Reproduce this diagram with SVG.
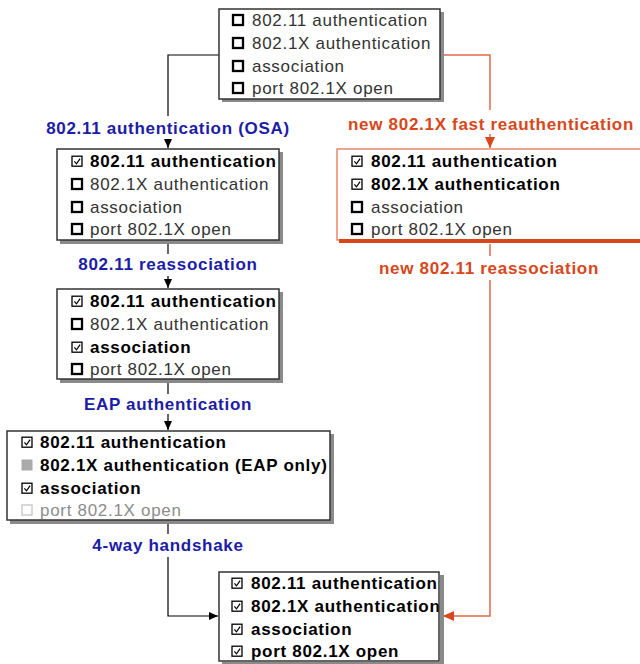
<svg xmlns="http://www.w3.org/2000/svg" xmlns:xlink="http://www.w3.org/1999/xlink" width="640" height="664" viewBox="0 0 640 664">
<style>
text{font-family:"Liberation Sans",Arial,sans-serif;font-size:17px;letter-spacing:0.7px}
.n{fill:#333}
.b{font-weight:bold;fill:#000}
.g{fill:#8c8c8c}
.box{fill:#fff;stroke:#333;stroke-width:1.5}
.sh{fill:#8a8a8a}
.lb{font-weight:bold;fill:#1c1ca6;text-anchor:middle}
.lo{font-weight:bold;fill:#d8461a;text-anchor:middle}
.cb{fill:none;stroke:#000}
.k{fill:none;stroke:#000;stroke-width:1.2}
.ln{fill:none;stroke:#000;stroke-width:1.2}
.lno{fill:none;stroke:#e36a45;stroke-width:1.5}
</style>
<defs>
<g id="u"><rect x="1" y="1" width="10" height="10" class="cb" stroke-width="2.3"/></g>
<g id="c"><rect x="1" y="1.2" width="10" height="10" class="cb" stroke-width="1.3"/><polyline points="3.4,6.4 5.5,8.8 9.1,3.7" class="k" stroke-width="1.6"/></g>
<g id="f"><rect x="0.5" y="0.5" width="11" height="11" fill="#aaa"/></g>
<g id="l"><rect x="1" y="1" width="10" height="10" fill="none" stroke="#c8c8c8" stroke-width="1.4"/></g>
<marker id="ab" markerWidth="10" markerHeight="8" refX="9" refY="4" orient="auto" markerUnits="userSpaceOnUse"><path d="M0,0 L9,4 L0,8 Z" fill="#000"/></marker>
<marker id="ao" markerWidth="12" markerHeight="10" refX="11" refY="5" orient="auto" markerUnits="userSpaceOnUse"><path d="M0,0 L11,5 L0,10 Z" fill="#d8461a"/></marker>
</defs>

<g id="connectors">
<path class="ln" d="M219,55 H168 V116"/>
<path class="ln" d="M168,139 V148" marker-end="url(#ab)"/>
<path class="ln" d="M168,240 V254"/>
<path class="ln" d="M168,276 V288" marker-end="url(#ab)"/>
<path class="ln" d="M168,380 V394"/>
<path class="ln" d="M168,414 V430" marker-end="url(#ab)"/>
<path class="ln" d="M168,521 V534"/>
<path class="ln" d="M168,557 V616 H218" marker-end="url(#ab)"/>
<path class="lno" d="M440,55 H490 V110"/>
<path class="lno" d="M490,134 V148" marker-end="url(#ao)"/>
<path class="lno" d="M490,244 V256"/>
<path class="lno" d="M490,280 V616 H443" marker-end="url(#ao)"/>
</g>

<g id="labels">
<text class="lb" x="168" y="134">802.11 authentication (OSA)</text>
<text class="lo" x="491" y="130">new 802.1X fast reauthentication</text>
<text class="lb" x="168" y="270">802.11 reassociation</text>
<text class="lo" x="489" y="274">new 802.11 reassociation</text>
<text class="lb" x="168" y="410">EAP authentication</text>
<text class="lb" x="168" y="551">4-way handshake</text>
</g>

<g id="state0">
<rect class="sh" x="222" y="12" width="222" height="90"/>
<rect class="box" x="219" y="9" width="221" height="90"/>
<use xlink:href="#u" x="232" y="14"/><text class="n" x="252" y="26">802.11 authentication</text>
<use xlink:href="#u" x="232" y="37"/><text class="n" x="252" y="49">802.1X authentication</text>
<use xlink:href="#u" x="232" y="60"/><text class="n" x="252" y="72">association</text>
<use xlink:href="#u" x="232" y="82"/><text class="n" x="252" y="94">port 802.1X open</text>
</g>

<g id="state1">
<rect class="sh" x="60" y="152" width="223" height="92"/>
<rect class="box" x="57" y="149" width="222" height="91"/>
<use xlink:href="#c" x="71" y="155"/><text class="b" x="90" y="167">802.11 authentication</text>
<use xlink:href="#u" x="71" y="178"/><text class="n" x="90" y="190">802.1X authentication</text>
<use xlink:href="#u" x="71" y="201"/><text class="n" x="90" y="213">association</text>
<use xlink:href="#u" x="71" y="223"/><text class="n" x="90" y="235">port 802.1X open</text>
</g>

<g id="state-fast">
<rect x="337" y="149" width="310" height="91" fill="#fff" stroke="#e36a45" stroke-width="1.2"/>
<rect x="339" y="239" width="310" height="4" fill="#d8461a"/>
<use xlink:href="#c" x="351" y="155"/><text class="b" x="371" y="167">802.11 authentication</text>
<use xlink:href="#c" x="351" y="178"/><text class="b" x="371" y="190">802.1X authentication</text>
<use xlink:href="#u" x="351" y="201"/><text class="n" x="371" y="213">association</text>
<use xlink:href="#u" x="351" y="223"/><text class="n" x="371" y="235">port 802.1X open</text>
</g>

<g id="state2">
<rect class="sh" x="60" y="292" width="223" height="91"/>
<rect class="box" x="57" y="289" width="222" height="90"/>
<use xlink:href="#c" x="71" y="295"/><text class="b" x="90" y="307">802.11 authentication</text>
<use xlink:href="#u" x="71" y="318"/><text class="n" x="90" y="330">802.1X authentication</text>
<use xlink:href="#c" x="71" y="341"/><text class="b" x="90" y="353">association</text>
<use xlink:href="#u" x="71" y="363"/><text class="n" x="90" y="375">port 802.1X open</text>
</g>

<g id="state3">
<rect class="sh" x="10" y="434" width="324" height="90"/>
<rect class="box" x="7" y="431" width="323" height="89"/>
<use xlink:href="#c" x="21" y="436"/><text class="b" x="40" y="448">802.11 authentication</text>
<use xlink:href="#f" x="21" y="459"/><text class="b" x="40" y="471">802.1X authentication (EAP only)</text>
<use xlink:href="#c" x="21" y="482"/><text class="b" x="40" y="494">association</text>
<use xlink:href="#l" x="21" y="504"/><text class="g" x="40" y="516">port 802.1X open</text>
</g>

<g id="state4">
<rect x="219" y="572" width="220" height="89" fill="#fff"/>
<use xlink:href="#c" x="231" y="577"/><text class="b" x="251" y="589">802.11 authentication</text>
<use xlink:href="#c" x="231" y="600"/><text class="b" x="251" y="612">802.1X authentication</text>
<use xlink:href="#c" x="231" y="623"/><text class="b" x="251" y="635">association</text>
<use xlink:href="#c" x="231" y="645"/><text class="b" x="251" y="657">port 802.1X open</text>
<path class="sh" d="M440,575 H444 V664 H222 V662 H440 Z"/>
<rect x="219" y="572" width="220" height="89" fill="none" stroke="#333" stroke-width="1.5"/>
</g>
</svg>
